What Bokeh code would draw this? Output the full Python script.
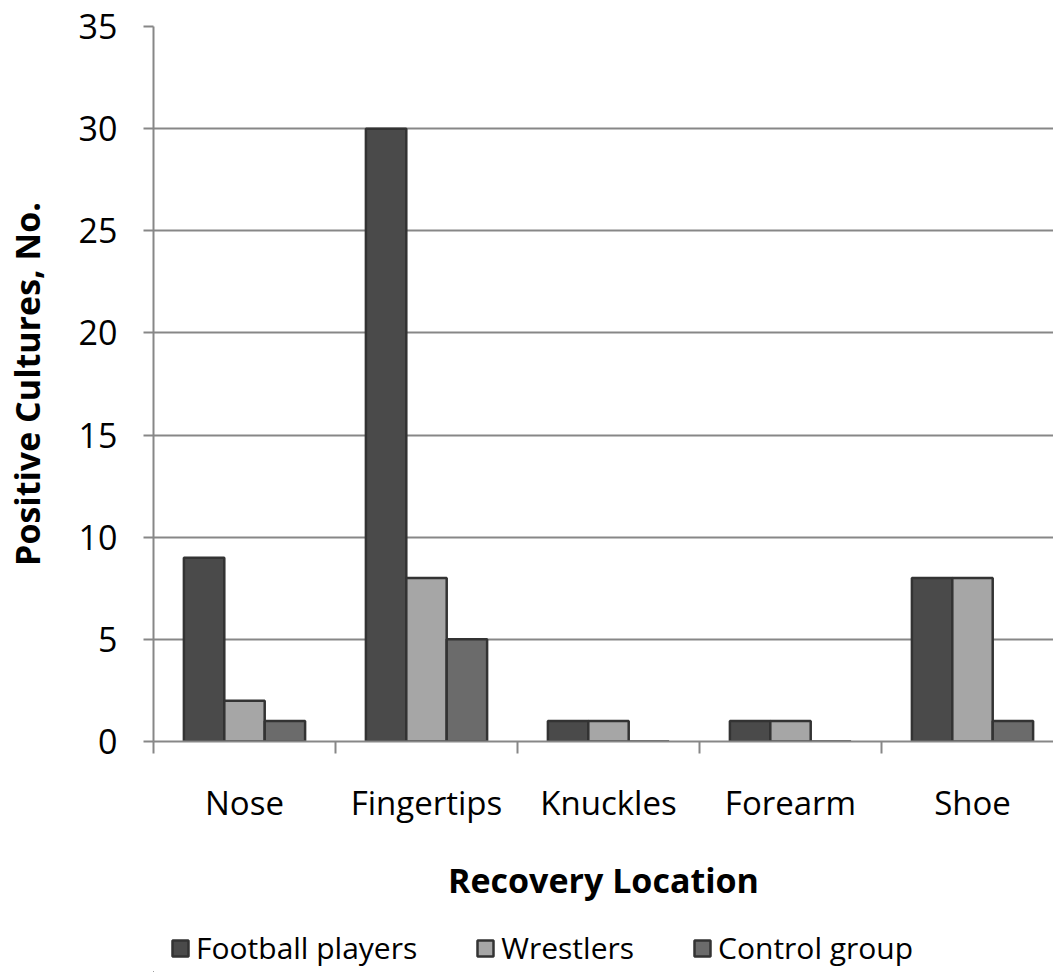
from bokeh.plotting import figure
from bokeh.layouts import column
from bokeh.models import FixedTicker, Legend, LegendItem, Range1d, ColumnDataSource
from bokeh.embed import file_html
from bokeh.resources import INLINE
import numpy as np

categories = ["Nose", "Fingertips", "Knuckles", "Forearm", "Shoe"]
football = [9, 30, 1, 1, 8]
wrestlers = [2, 8, 1, 1, 8]
control = [1, 5, 0, 0, 1]
series_names = ["Football players", "Wrestlers", "Control group"]
y_ticks = [0, 5, 10, 15, 20, 25, 30, 35]

FONT = "Open Sans"
GRID = "#878787"

p = figure(width=1053, height=905, output_backend="svg", toolbar_location=None,
           x_range=Range1d(-0.5, 4.445), y_range=Range1d(0, 35),
           min_border_left=153, min_border_right=0, min_border_top=26,
           min_border_bottom=0)
p.outline_line_color = None
p.background_fill_color = "white"
p.border_fill_color = "white"

x = np.arange(len(categories))
w = 0.222
fills = ["#4a4a4a", "#a6a6a6", "#6b6b6b"]
for i, (vals, col) in enumerate(zip([football, wrestlers, control], fills)):
    src = ColumnDataSource(dict(x=x + (i - 1) * w, top=vals))
    p.vbar(x="x", top="top", bottom=0, width=w, source=src,
           fill_color=col, line_color="#333333", line_width=2.5)

# y axis
p.yaxis.ticker = FixedTicker(ticks=y_ticks)
p.yaxis.axis_line_color = GRID
p.yaxis.axis_line_width = 2
p.yaxis.major_tick_line_color = GRID
p.yaxis.major_tick_line_width = 2
p.yaxis.major_tick_out = 10
p.yaxis.major_tick_in = 0
p.yaxis.minor_tick_line_color = None
p.yaxis.major_label_text_font = FONT
p.yaxis.major_label_text_font_size = "34px"
p.yaxis.major_label_text_color = "black"
p.yaxis.major_label_standoff = 26
p.yaxis.axis_label = "Positive Cultures, No."
p.yaxis.axis_label_text_font = FONT
p.yaxis.axis_label_text_font_size = "34px"
p.yaxis.axis_label_text_font_style = "bold"
p.yaxis.axis_label_text_color = "black"
p.yaxis.axis_label_standoff = 26

# x axis
p.xaxis.ticker = FixedTicker(ticks=list(range(len(categories))),
                             minor_ticks=[-0.5, 0.5, 1.5, 2.5, 3.5])
p.xaxis.major_label_overrides = {i: c for i, c in enumerate(categories)}
p.xaxis.axis_line_color = GRID
p.xaxis.axis_line_width = 2
p.xaxis.major_tick_line_color = None
p.xaxis.minor_tick_line_color = GRID
p.xaxis.minor_tick_line_width = 2
p.xaxis.minor_tick_out = 12
p.xaxis.minor_tick_in = 0
p.xaxis.major_tick_out = 12
p.xaxis.major_label_text_font = FONT
p.xaxis.major_label_text_font_size = "33px"
p.xaxis.major_label_text_color = "black"
p.xaxis.major_label_standoff = 26
p.xaxis.axis_label = "Recovery Location"
p.xaxis.axis_label_text_font = FONT
p.xaxis.axis_label_text_font_size = "34px"
p.xaxis.axis_label_text_font_style = "bold"
p.xaxis.axis_label_text_color = "black"
p.xaxis.axis_label_standoff = 29

p.xgrid.grid_line_color = None
p.ygrid.grid_line_color = GRID
p.ygrid.grid_line_width = 2
p.ygrid.ticker = FixedTicker(ticks=y_ticks[1:])

# legend in its own strip below the chart
lg = figure(width=1053, height=67, output_backend="svg", toolbar_location=None,
            x_range=Range1d(0, 1), y_range=Range1d(0, 1),
            x_axis_location=None, y_axis_location=None,
            min_border=0, min_border_left=0, min_border_right=0,
            min_border_top=0, min_border_bottom=0)
lg.outline_line_color = None
lg.grid.grid_line_color = None
lg_renderers = []
for col in fills:
    # legend swatch renderers, placed outside the visible range
    r = lg.vbar(x=[-10], top=[0], width=0.1, fill_color=col,
                line_color="#333333", line_width=2.5)
    lg_renderers.append(r)

legend = Legend(items=[LegendItem(label=n, renderers=[r]) for n, r in zip(series_names, lg_renderers)],
                orientation="horizontal", location=(17, 4))
legend.label_text_font = FONT
legend.label_text_font_size = "30px"
legend.label_text_color = "black"
legend.label_height = 20
legend.glyph_width = 20
legend.glyph_height = 20
legend.spacing = 58
legend.label_standoff = 6
legend.border_line_color = None
legend.background_fill_alpha = 0
legend.padding = 0
legend.margin = 0
lg.add_layout(legend, "center")

open("out.html", "w").write(file_html(column(p, lg, spacing=0), INLINE))
